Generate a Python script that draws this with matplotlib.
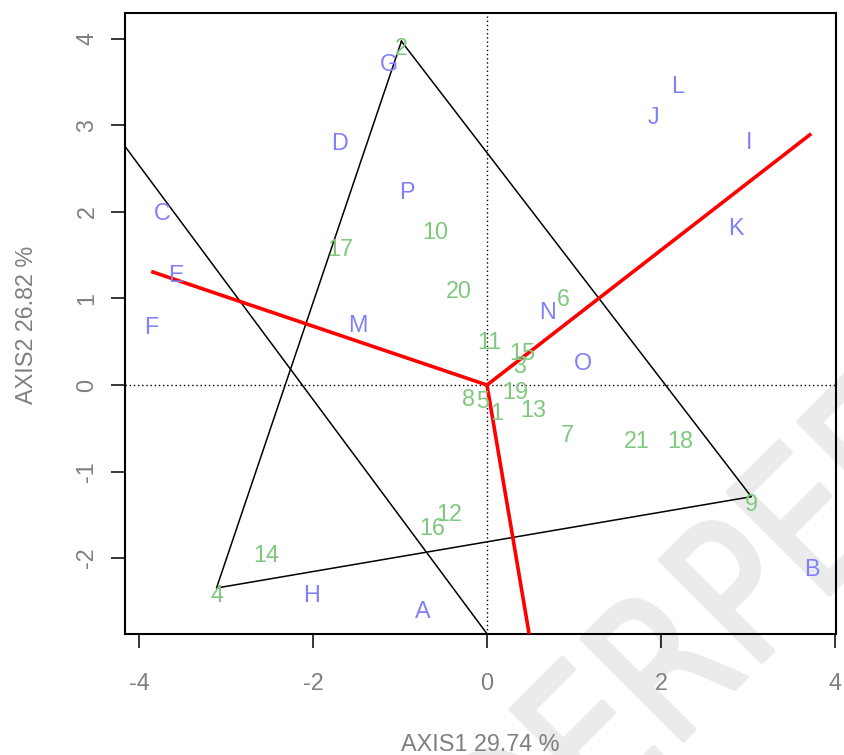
import matplotlib
matplotlib.use('Agg')
import matplotlib.pyplot as plt
from matplotlib.transforms import ScaledTranslation, IdentityTransform, Affine2D
from matplotlib.textpath import TextPath
from matplotlib.font_manager import FontProperties
from matplotlib.patches import PathPatch

plt.rcParams['font.family'] = ['Liberation Sans', 'DejaVu Sans']

# ---- data ----
row_labels = list('ABCDEFGHIJKLMNOP')
row_x = [-0.737, 3.734, -3.736, -1.697, -3.583, -3.862, -1.130, -2.022,
         3.011, 1.919, 2.858, 2.195, -1.486, 0.699, 1.098, -0.926]
row_y = [-2.534, -2.046, 2.067, 2.875, 1.350, 0.746, 3.788, -2.342,
         2.883, 3.172, 1.893, 3.538, 0.773, 0.928, 0.330, 2.306]

col_labels = [str(i) for i in range(1, 22)]
col_x = [0.117, -0.984, 0.374, -3.111, -0.055, 0.883, 0.922, -0.216, 3.04, -0.600,
         0.032, -0.435, 0.531, -2.543, 0.405, -0.631, -1.693, 2.226, 0.328, -0.324, 1.728]
col_y = [-0.244, 3.97, 0.304, -2.345, -0.109, 1.073, -0.493, -0.082, -1.29, 1.844,
         0.581, -1.410, -0.204, -1.884, 0.449, -1.572, 1.651, -0.571, 0.003, 1.170, -0.571]

hull = ['2', '9', '4']               # polygon vertices (column labels)
arrow_x = [-3.862, 3.729, 0.59]      # red vectors from origin
arrow_y = [1.312, 2.903, -3.5]
line_x = [-4.5, 0.30]                # extra black line
line_y = [3.212, -3.279]

xlabel = 'AXIS1 29.74 %'
ylabel = 'AXIS2 26.82 %'
xticks = [-4, -2, 0, 2, 4]
yticks = [-2, -1, 0, 1, 2, 3, 4]

blue = '#8080FF'
green = '#80C880'
grey = '#808080'

W, H = 844, 755
fig = plt.figure(figsize=(W / 100, H / 100), dpi=100)

# watermark (behind everything), drawn as text outlines in pixel coordinates
wm_color = '#ebebeb'
fp = FontProperties(family='DejaVu Sans')
wm_parts = [('PEER REVIEW', 'left', (762, 93)), ('UNDER', 'right', (747, 78))]
for txt, side, (px, py) in wm_parts:
    tp = TextPath((0, 0), txt, size=198, prop=fp)
    ext = tp.get_extents()
    x_anchor = ext.x0 if side == 'left' else ext.x1
    tr = Affine2D().translate(-x_anchor, 0).scale(0.8, 1).rotate_deg(45).translate(px, py)
    patch = PathPatch(tr.transform_path(tp), facecolor=wm_color, edgecolor=wm_color,
                      lw=3.0, joinstyle='round', transform=IdentityTransform(), zorder=-5)
    fig.add_artist(patch)

ax = fig.add_axes([124.6 / W, (H - 634) / H, (836.5 - 124.6) / W, (634 - 12.7) / H])
ax.set_facecolor('none')
ax.set_xlim(-4.168, 4.020)
ax.set_ylim(-2.876, 4.301)

ax.axhline(0, color='black', lw=1.0, ls=(0, (1, 2)), zorder=1)
ax.axvline(0, color='black', lw=1.0, ls=(0, (1, 2)), zorder=1)

# polygon
hx = [col_x[col_labels.index(h)] for h in hull] + [col_x[col_labels.index(hull[0])]]
hy = [col_y[col_labels.index(h)] for h in hull] + [col_y[col_labels.index(hull[0])]]
ax.plot(hx, hy, color='black', lw=1.1, zorder=2)
ax.plot(line_x, line_y, color='black', lw=1.1, zorder=2)

for x, y in zip(arrow_x, arrow_y):
    ax.plot([0, x], [0, y], color='red', lw=2.6, zorder=3, solid_capstyle='butt')

off = ax.transData + ScaledTranslation(0, -5 / 100, fig.dpi_scale_trans)
for lab, x, y in zip(row_labels, row_x, row_y):
    ax.text(x, y, lab, color=blue, fontsize=16.8, ha='center', va='center_baseline',
            transform=off, zorder=4)
for lab, x, y in zip(col_labels, col_x, col_y):
    ax.text(x, y, lab, color=green, fontsize=16.8, ha='center', va='center_baseline',
            transform=off, zorder=4)

for s in ax.spines.values():
    s.set_linewidth(1.5)

ax.set_xticks(xticks, [str(t) for t in xticks])
ax.set_yticks(yticks, [str(t) for t in yticks], rotation=90, rotation_mode='anchor',
              ha='center', va='baseline')
ax.tick_params(axis='both', direction='out', length=10, width=1.1,
               labelsize=16.8, labelcolor=grey)
ax.tick_params(axis='x', pad=17)
ax.tick_params(axis='y', pad=12.4)

fig.text(480.5 / W, (H - 742) / H, xlabel, ha='center', va='center_baseline',
         fontsize=16.8, color=grey)
fig.text(24 / W, (H - 325) / H, ylabel, rotation=90, rotation_mode='anchor',
         ha='center', va='center_baseline', fontsize=16.8, color=grey)

fig.savefig('out.png', dpi=100)
